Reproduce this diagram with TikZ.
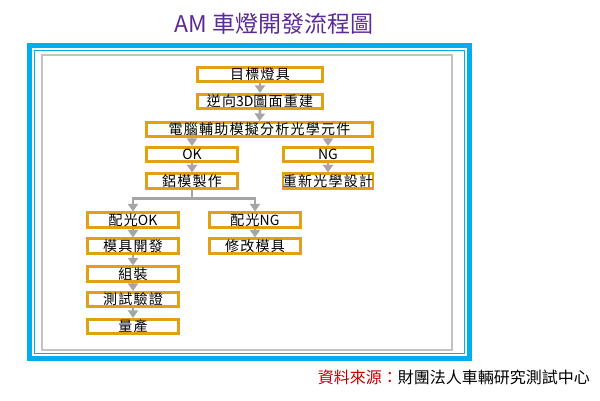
\documentclass[tikz,border=0pt]{standalone}
\usepackage{fontspec}
\setmainfont{Noto Sans CJK TC}
\newfontfamily\boxfont[LetterSpace=9]{Noto Sans CJK TC}
\newfontfamily\cjkfont{Noto Sans CJK TC}
\newcommand{\latn}[1]{{\cjkfont #1}}
\usetikzlibrary{arrows.meta}
\definecolor{frameblue}{RGB}{0,174,239}
\definecolor{boxgold}{RGB}{226,160,20}
\definecolor{arrgray}{RGB}{165,165,165}
\definecolor{rectgray}{RGB}{195,195,195}
\definecolor{titlepurple}{RGB}{92,42,150}
\definecolor{srcred}{RGB}{192,0,0}
\tikzset{
  stepbox/.style={draw=boxgold, line width=2.6pt, fill=white, minimum height=14.5pt,
    inner sep=0pt, font=\fontsize{14}{14}\boxfont, text=black},
  flow/.style={draw=arrgray, line width=2.6pt, -{Triangle[width=10pt,length=7.5pt]}},
  shaft/.style={draw=arrgray, line width=2.4pt},
}
\begin{document}
\begin{tikzpicture}[x=1pt,y=-1pt]
\useasboundingbox (0,0) rectangle (600,401);
\fill[white] (0,0) rectangle (600,401);
% title
\node[font=\fontsize{23}{25}\cjkfont, text=titlepurple] (title) at (274,24) {AM 車燈開發流程圖};
% frame
\fill[frameblue] (27,43) rectangle (472,361);
\fill[white] (32,48) rectangle (467,356);
\draw[frameblue, line width=1.3pt] (34.2,50.2) rectangle (464.8,353.8);
\fill[white] (35,51) rectangle (464,353);
\draw[rectgray, line width=2pt] (42,55) rectangle (452,350);
% boxes
\node[stepbox, minimum width=125.5pt] (b1) at (260,74.5) {目標燈具};
\node[stepbox, minimum width=125.5pt] (b2) at (260,101.5) {逆向\latn{3D}圖面重建};
\node[stepbox, minimum width=226.5pt] (b3) at (259.5,129.5) {電腦輔助模擬分析光學元件};
\node[stepbox, minimum width=91.5pt] (b4) at (192,154.5) {\latn{OK}};
\node[stepbox, minimum width=89.5pt] (b5) at (328,154.5) {\latn{NG}};
\node[stepbox, minimum width=91.5pt] (b6) at (192,181) {鋁模製作};
\node[stepbox, minimum width=89.5pt] (b7) at (328,181) {重新光學設計};
\node[stepbox, minimum width=91.5pt] (b8) at (133,220) {配光\latn{OK}};
\node[stepbox, minimum width=91.5pt] (b9) at (255,220) {配光\latn{NG}};
\node[stepbox, minimum width=91.5pt] (b10) at (133,246) {模具開發};
\node[stepbox, minimum width=91.5pt] (b11) at (255,246) {修改模具};
\node[stepbox, minimum width=91.5pt] (b12) at (133,274) {組裝};
\node[stepbox, minimum width=91.5pt] (b13) at (133,299.5) {測試驗證};
\node[stepbox, minimum width=91.5pt] (b14) at (133,326.5) {量產};
% arrows
\draw[flow] (b1.south) -- (b2.north);
\draw[flow] (b2.south) -- (b3.north);
\draw[flow] (b3.south -| b4) -- (b4.north);
\draw[flow] (b3.south -| b5) -- (b5.north);
\draw[flow] (b4.south) -- (b6.north);
\draw[flow] (b5.south) -- (b7.north);
\draw[shaft] (b6.south) -- ++(0,9) coordinate (j);
\draw[shaft] ([xshift=-1.2pt]j -| b8) -- ([xshift=1.2pt]j -| b9);
\draw[flow] ([yshift=-1.2pt]j -| b8) -- (b8.north);
\draw[flow] ([yshift=-1.2pt]j -| b9) -- (b9.north);
\draw[flow] (b8.south) -- (b10.north);
\draw[flow] (b9.south) -- (b11.north);
\draw[flow] (b10.south) -- (b12.north);
\draw[flow] (b12.south) -- (b13.north);
\draw[flow] (b13.south) -- (b14.north);
% source
\node[anchor=east, font=\fontsize{16}{18}\cjkfont, inner sep=0pt] (src) at (590,377) {\textcolor{srcred}{資料來源：}財團法人車輛研究測試中心};
\end{tikzpicture}
\end{document}
